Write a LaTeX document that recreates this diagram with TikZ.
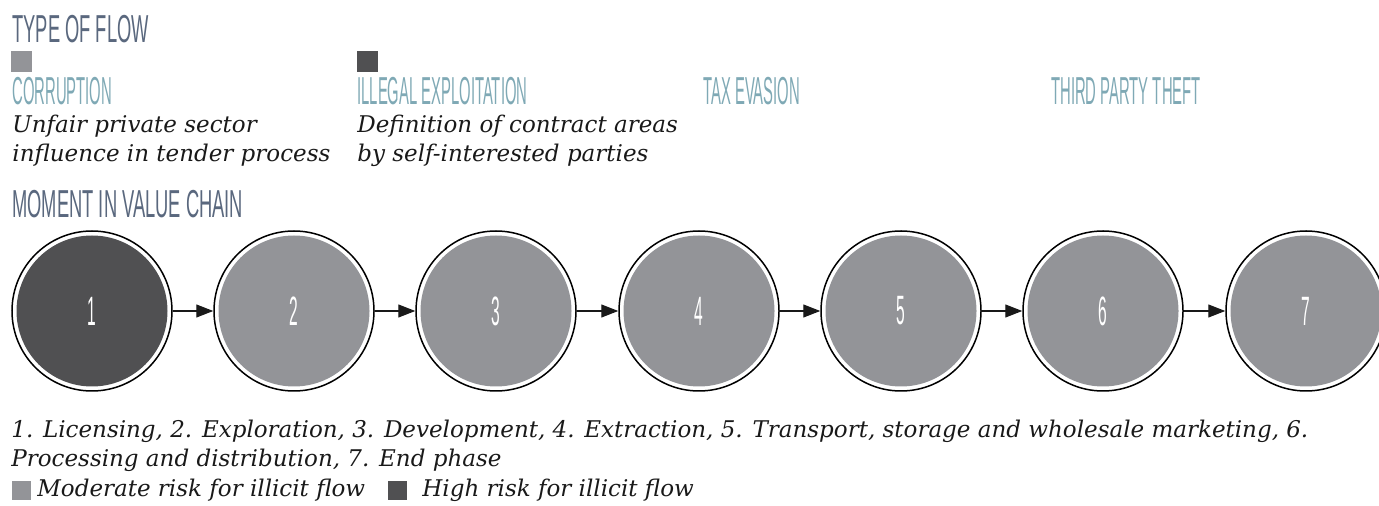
\documentclass[tikz,border=0pt]{standalone}
\usepackage{fontspec}
\usetikzlibrary{arrows.meta}
\newfontfamily\headfont[FakeStretch=0.47]{Liberation Sans}
\newfontfamily\flowfont[FakeStretch=0.38]{Liberation Sans}
\newfontfamily\notefont{DejaVu Serif}
\definecolor{moderate}{HTML}{939498}
\definecolor{high}{HTML}{505052}
\definecolor{flowhead}{HTML}{7FA9B5}
\definecolor{sectionhead}{HTML}{5A687E}
\newcommand{\stage}[4] % number, x, y, fill colour
{
	% outer ring
	\node[ring] (r#1) at (#2,#3) {};
	% filled disc with its number
	\node[disc, fill=#4] (s#1) at (#2,#3) {#1};
}

\begin{document}
\begin{tikzpicture}[x=0.5pt, y=-0.5pt,
	head/.style={anchor=base west, inner sep=0pt, text=sectionhead, font=\headfont\fontsize{19.5}{20}\selectfont},
	flowtype/.style={anchor=base west, inner sep=0pt, text=flowhead, font=\flowfont\fontsize{19.5}{20}\selectfont},
	note/.style={anchor=base west, inner sep=0pt, align=left, font=\notefont\itshape\fontsize{11.5}{14.75}\selectfont, text=black!90},
	swatch/.style={anchor=north west, inner sep=0pt, minimum size=10.5pt},
	ring/.style={circle, draw=black, line width=0.75pt, inner sep=0pt, minimum size=80pt},
	disc/.style={circle, inner sep=0pt, minimum size=75.5pt, text=white, font=\flowfont\fontsize{20.5}{20}\selectfont},
	flow/.style={draw=black!90, line width=0.6pt, -{Triangle[length=8.5pt, width=6.5pt]}}]
	% page 1379 x 506 px
	\useasboundingbox (0,0) rectangle (1379,506);
	
	% type of flow
	\node[head] (typehead) at (12,43) {TYPE OF FLOW};
	\node[swatch, fill=moderate] (corrbox) at (11,51) {};
	\node[swatch, fill=high] (illbox) at (357,51) {};
	\node[flowtype] (corrhead) at (12,105) {CORRUPTION};
	\node[flowtype] (illhead) at (357,105) {ILLEGAL EXPLOITATION};
	\node[flowtype] (taxhead) at (703,105) {TAX EVASION};
	\node[flowtype] (thefthead) at (1051,105) {THIRD PARTY THEFT};
	% base of a two-line note is its last line
	\node[note] (corrnote) at (12,162) {Unfair private sector\\influence in tender process};
	\node[note] (illnote) at (357,162) {Definition of contract areas\\by self-interested parties};
	
	% moment in value chain
	\node[head] (chainhead) at (12,218) {MOMENT IN VALUE CHAIN};
	\stage{1}{92}{311}{high};
	\stage{2}{294}{311}{moderate};
	\stage{3}{496}{311}{moderate};
	\stage{4}{699}{311}{moderate};
	\stage{5}{901}{311}{moderate};
	\stage{6}{1103}{311}{moderate};
	\stage{7}{1306}{311}{moderate};
	\draw[flow] (r1) -- (r2);
	\draw[flow] (r2) -- (r3);
	\draw[flow] (r3) -- (r4);
	\draw[flow] (r4) -- (r5);
	\draw[flow] (r5) -- (r6);
	\draw[flow] (r6) -- (r7);
	
	% key
	\node[note] (phases) at (11,467) {1. Licensing, 2. Exploration, 3. Development, 4. Extraction, 5. Transport, storage and wholesale marketing, 6.\\Processing and distribution, 7. End phase};
	\node[swatch, fill=moderate, minimum size=9.5pt] (modbox) at (12,481) {};
	\node[note] (modtext) at (37,497) {Moderate risk for illicit flow};
	\node[swatch, fill=high, minimum size=9.5pt] (highbox) at (388,481) {};
	\node[note] (hightext) at (422,497) {High risk for illicit flow};
\end{tikzpicture}
\end{document}
